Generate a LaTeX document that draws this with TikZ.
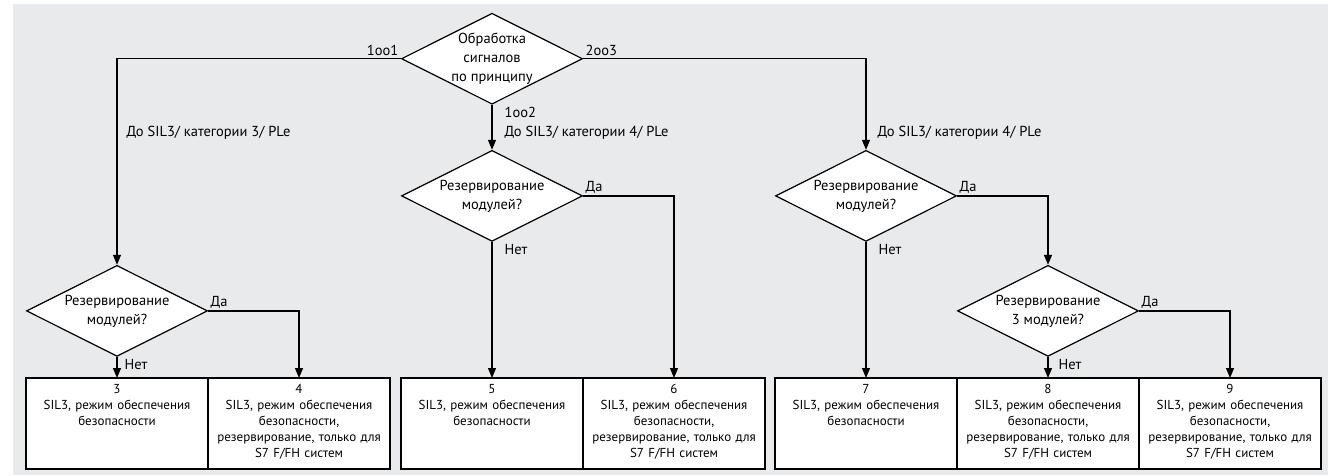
\documentclass[tikz,border=0pt]{standalone}
\usepackage{fontspec}
\setmainfont{PT Sans}
\usepackage{xcolor}
\usepackage{tikz}
\usetikzlibrary{shapes.geometric, arrows.meta, positioning}
\definecolor{bggray}{RGB}{232,234,236}

\begin{document}
\begin{tikzpicture}[
    x=1pt, y=1pt,
    % --- node styles ---
    dec/.style={diamond, aspect=2, minimum width=181pt, minimum height=91pt,
        inner sep=-5pt, draw=black, fill=white, line width=1.2pt,
        align=center, font=\fontsize{14.5}{19}\selectfont},
    res/.style={rectangle, minimum width=182pt, minimum height=91pt,
        outer sep=0pt, inner xsep=4pt, inner ysep=3pt, text width=174pt,
        text height=12pt, text depth=73pt, align=center,
        draw=black, fill=white, line width=1.2pt,
        font=\fontsize{13}{16}\selectfont},
    % --- arrow / label styles ---
    arr/.style={-{Triangle[length=10pt, width=8pt]}, line width=1.2pt},
    lbl/.style={font=\fontsize{14.5}{17}\selectfont, inner sep=2pt}
]

%%% ================= FON =================
\useasboundingbox (0,0) rectangle (1328,-475);
\fill [bggray] (13,-4) rectangle (1328,-475);

%%% ================= RYAD RESULTATOV =================
\node (b3) [res] at (117,-423.5)
    {3\\SIL3, режим обеспечения\\безопасности};
\node (b4) [res, right=0pt of b3]
    {4\\SIL3, режим обеспечения\\безопасности,\\резервирование, только для\\S7 F/FH систем};
\node (b5) [res, right=11pt of b4]
    {5\\SIL3, режим обеспечения\\безопасности};
\node (b6) [res, right=0pt of b5]
    {6\\SIL3, режим обеспечения\\безопасности,\\резервирование, только для\\S7 F/FH систем};
\node (b7) [res, right=10pt of b6]
    {7\\SIL3, режим обеспечения\\безопасности};
\node (b8) [res, right=0pt of b7]
    {8\\SIL3, режим обеспечения\\безопасности,\\резервирование, только для\\S7 F/FH систем};
\node (b9) [res, right=0pt of b8]
    {9\\SIL3, режим обеспечения\\безопасности,\\резервирование, только для\\S7 F/FH систем};

%%% ================= VOPROSY =================
\node (d1) [dec, above=21pt of b3] {Резервирование\\модулей?};
\node (d2) [dec, above=136pt of b5] {Резервирование\\модулей?};
\node (d3) [dec, above=136pt of b7] {Резервирование\\модулей?};
\node (d4) [dec, above=21pt of b8] {Резервирование\\3 модулей?};
\node (d0) [dec, above=45pt of d2] {Обработка\\сигналов\\по принципу};

%%% ================= STRELKI =================
%% Printsip obrabotki
\draw [arr] (d0.west) -| node[lbl, above left, pos=0] (l1oo1) {1oo1}
    node[lbl, anchor=west, xshift=7pt, pos=0.68] (lcat3) {До SIL3/ категории 3/ PLe} (d1);
\draw [arr] (d0) -- node[lbl, below right, pos=0, xshift=10pt] (l1oo2) {1oo2}
    node[lbl, anchor=west, xshift=10pt, pos=0.62] (lcat4a) {До SIL3/ категории 4/ PLe} (d2);
\draw [arr] (d0.east) -| node[lbl, above right, pos=0] (l2oo3) {2oo3}
    node[lbl, anchor=west, xshift=9pt, pos=0.906] (lcat4b) {До SIL3/ категории 4/ PLe} (d3);

%% Da / Net
\draw [arr] (d1) -- node[lbl, below right, pos=0, xshift=5pt] (n1) {Нет} (b3);
\draw [arr] (d1.east) -| node[lbl, above right, pos=0] (y1) {Да} (b4);
\draw [arr] (d2) -- node[lbl, below right, pos=0, xshift=10pt] (n2) {Нет} (b5);
\draw [arr] (d2.east) -| node[lbl, above right, pos=0] (y2) {Да} (b6);
\draw [arr] (d3) -- node[lbl, below right, pos=0, xshift=10pt] (n3) {Нет} (b7);
\draw [arr] (d3.east) -| node[lbl, above right, pos=0] (y3) {Да} (d4);
\draw [arr] (d4) -- node[lbl, below right, pos=0, xshift=8pt] (n4) {Нет} (b8);
\draw [arr] (d4.east) -| node[lbl, above right, pos=0] (y4) {Да} (b9);

\end{tikzpicture}
\end{document}
